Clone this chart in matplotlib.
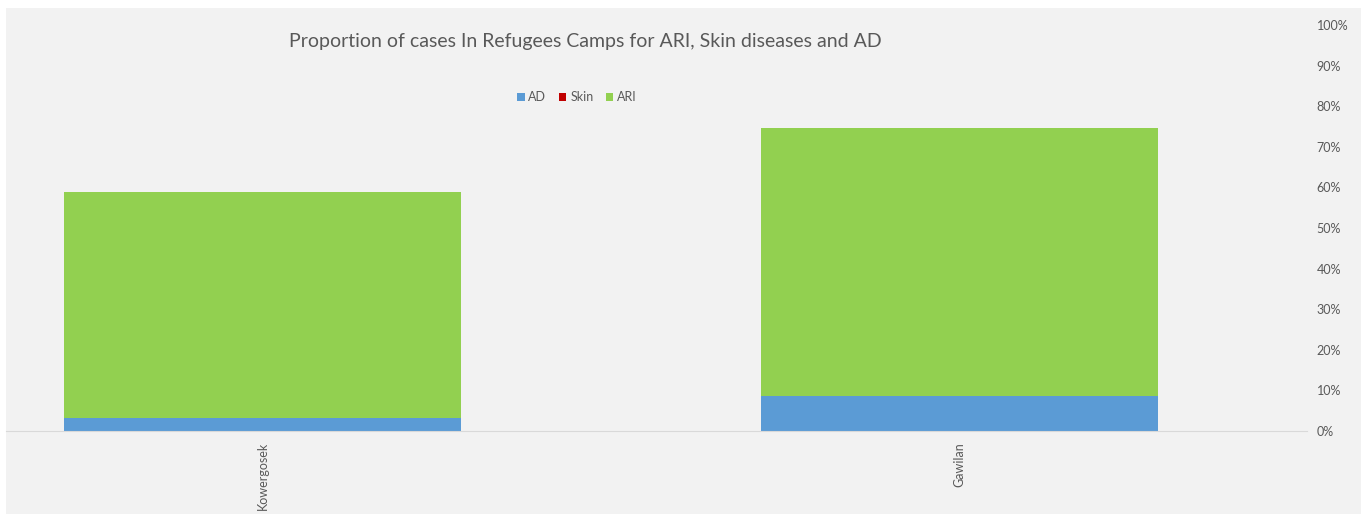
import numpy as np
import matplotlib.pyplot as plt
from matplotlib.ticker import PercentFormatter
from matplotlib.patches import Rectangle

# data (proportions)
camps = ['Kowergosek', 'Gawilan']
ad = [0.032, 0.086]
skin = [0.0, 0.0]
ari = [0.557, 0.660]

col_ad = '#5b9bd5'
col_skin = '#c00000'
col_ari = '#92d050'
txt = '#595959'

plt.rcParams['font.family'] = ['Lato', 'DejaVu Sans']

W, H = 1361, 514
fig = plt.figure(figsize=(W / 100, H / 100), dpi=100, facecolor='white')
fig.patches.append(Rectangle((6 / W, 0), 1, (H - 8) / H, transform=fig.transFigure,
                             facecolor='#f2f2f2', edgecolor='none', zorder=-10))

ax = fig.add_axes([6 / W, (H - 431) / H, (1307 - 6) / W, (431 - 25) / H])
ax.set_facecolor('none')

x = np.arange(len(camps))
width = 0.57
b1 = ax.bar(x, ad, width, color=col_ad, label='AD')
b2 = ax.bar(x, skin, width, bottom=ad, color=col_skin, label='Skin')
base = np.array(ad) + np.array(skin)
b3 = ax.bar(x, ari, width, bottom=base, color=col_ari, label='ARI')

ax.set_xlim(-0.368, 1.498)
ax.set_ylim(0, 1)
ax.yaxis.tick_right()
ax.set_yticks(np.arange(0, 1.01, 0.1))
ax.yaxis.set_major_formatter(PercentFormatter(1.0, decimals=0))
ax.tick_params(axis='y', length=0, pad=7, labelcolor=txt, labelsize=9)
ax.set_xticks(x)
ax.set_xticklabels(camps, rotation=90, color=txt, fontsize=9)
ax.tick_params(axis='x', length=0, pad=8)

for s in ['top', 'right', 'left']:
    ax.spines[s].set_visible(False)
ax.spines['bottom'].set_color('#d9d9d9')

fig.text(585 / W, 1 - 42 / H, 'Proportion of cases In Refugees Camps for ARI, Skin diseases and AD',
         ha='center', va='center', fontsize=14, color=txt)

fig.legend(handles=[b1, b2, b3], loc='center', bbox_to_anchor=(577 / W, 1 - 97 / H),
           ncol=3, frameon=False, fontsize=9, handlelength=0.6, handleheight=0.6,
           handletextpad=0.3, columnspacing=1.0, labelcolor=txt)

fig.savefig('out.png', dpi=100, facecolor=fig.get_facecolor())
